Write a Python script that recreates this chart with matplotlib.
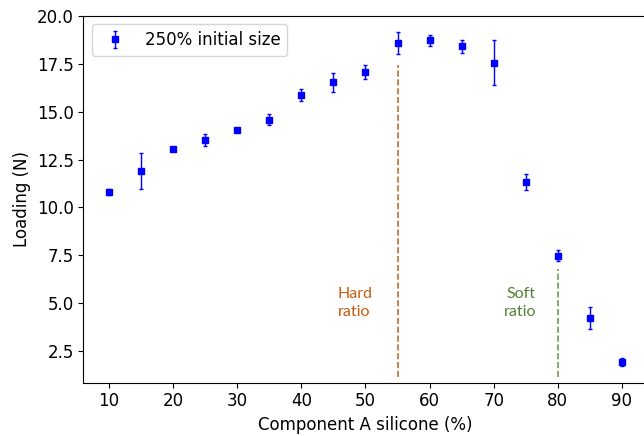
"""
Loading vs component A silicone ratio, with hard/soft ratio markers
"""
import numpy as np
import matplotlib
matplotlib.use('Agg')
import matplotlib.pyplot as plt

# Data
component_a = [10, 15, 20, 25, 30, 35, 40, 45, 50, 55, 60, 65, 70, 75, 80, 85, 90]
loading = [10.8, 11.88, 13.07, 13.52, 14.05, 14.58, 15.88, 16.53, 17.07, 18.58,
           18.73, 18.41, 17.55, 11.33, 7.48, 4.22, 1.92]
loading_err = [0.17, 0.94, 0.09, 0.29, 0.09, 0.3, 0.33, 0.49, 0.35, 0.58,
               0.3, 0.32, 1.18, 0.4, 0.28, 0.59, 0.22]

series_label = '250% initial size'
hard_ratio = 55
soft_ratio = 80
hard_line_top = 17.45
soft_line_top = 6.8
line_bottom = 1.15

plt.rcParams['font.size'] = 12

fig = plt.figure(figsize=(6.44, 4.36), dpi=100)
ax = fig.add_axes([0.1295, 0.1222, 0.876, 0.841])

ax.errorbar(component_a, loading, yerr=loading_err, fmt='s', color='b',
            markersize=4, elinewidth=1, capsize=1.5, label=series_label)

# Hard / soft ratio markers
ax.vlines(hard_ratio, line_bottom, hard_line_top, colors='#c0702f',
          linestyles='--', linewidth=1.2)
ax.vlines(soft_ratio, line_bottom, soft_line_top, colors='#6f9a52',
          linestyles='--', linewidth=1.2)
ax.text(48.3, 5.0, 'Hard\nratio', color='#c55a11', fontsize=11.5,
        family='Lato', ha='center', va='center', linespacing=1.3)
ax.text(74.2, 5.0, 'Soft\nratio', color='#538135', fontsize=11.5,
        family='Lato', ha='center', va='center', linespacing=1.3)

ax.set_xlim(6, 94)
ax.set_ylim(0.83, 20)
ax.set_xticks(np.arange(10, 100, 10))
ax.set_xlabel('Component A silicone (%)')
ax.set_ylabel('Loading (N)')
ax.legend(loc='upper left')

plt.savefig('out.png', dpi=100)
